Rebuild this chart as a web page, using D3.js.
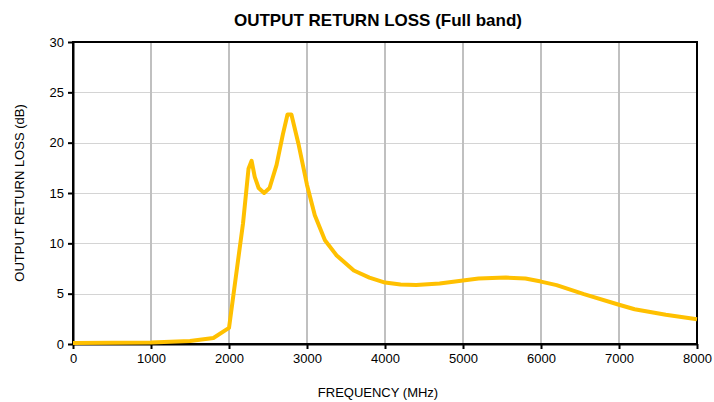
<!DOCTYPE html>
<html>
<head>
<meta charset="utf-8">
<script src="https://cdn.jsdelivr.net/npm/d3@7"></script>
<style>
  body { margin: 0; background: #fff; }
  text { font-family: "Liberation Sans", Arial, sans-serif; fill: #000; }
</style>
</head>
<body>
<div id="chart"></div>
<script>
const width = 714;
const height = 402;
const margin = { top: 42, right: 17, bottom: 58, left: 73 };
const innerWidth = width - margin.left - margin.right;
const innerHeight = height - margin.top - margin.bottom;

// Data
const frequency = [0, 500, 1000, 1500, 1800, 2000, 2180, 2250, 2290, 2330, 2380, 2450, 2520, 2610, 2690, 2750, 2800, 2890, 3000, 3100, 3230, 3380, 3600, 3800, 4000, 4200, 4400, 4700, 5000, 5200, 5550, 5800, 6000, 6200, 6550, 7000, 7200, 7600, 8000];
const returnLoss = [0.1, 0.12, 0.15, 0.3, 0.6, 1.6, 12.0, 17.4, 18.2, 16.6, 15.5, 15.0, 15.5, 17.8, 20.8, 22.8, 22.8, 19.9, 15.8, 12.8, 10.3, 8.8, 7.3, 6.6, 6.1, 5.9, 5.85, 6.0, 6.3, 6.5, 6.6, 6.5, 6.2, 5.85, 4.95, 3.9, 3.45, 2.9, 2.45];
const xTicks = [0, 1000, 2000, 3000, 4000, 5000, 6000, 7000, 8000];
const yTicks = [0, 5, 10, 15, 20, 25, 30];

const data = frequency.map((f, i) => ({ f: f, v: returnLoss[i] }));

const svg = d3.select("#chart")
    .append("svg")
    .attr("width", width)
    .attr("height", height);

const g = svg.append("g")
    .attr("transform", `translate(${margin.left},${margin.top})`);

const xScale = d3.scaleLinear().domain([0, 8000]).range([0, innerWidth]);
const yScale = d3.scaleLinear().domain([0, 30]).range([innerHeight, 0]);

// Gridlines
g.selectAll(".hgrid")
    .data(yTicks.slice(1, -1))
    .enter()
    .append("line")
    .attr("x1", 0)
    .attr("x2", innerWidth)
    .attr("y1", d => Math.round(yScale(d)) + 0.5)
    .attr("y2", d => Math.round(yScale(d)) + 0.5)
    .attr("stroke", "#d4d4d4")
    .attr("stroke-width", 1);

g.selectAll(".vgrid")
    .data(xTicks.slice(1, -1))
    .enter()
    .append("line")
    .attr("x1", d => Math.round(xScale(d)))
    .attr("x2", d => Math.round(xScale(d)))
    .attr("y1", 0)
    .attr("y2", innerHeight)
    .attr("stroke", "#c0c0c0")
    .attr("stroke-width", 2);

// Frame
g.append("rect")
    .attr("x", 0)
    .attr("y", 0)
    .attr("width", innerWidth)
    .attr("height", innerHeight)
    .attr("fill", "none")
    .attr("stroke", "#000")
    .attr("stroke-width", 2);

// Axes
const xAxis = d3.axisBottom(xScale).tickValues(xTicks).tickFormat(d3.format("d"))
    .tickSize(5).tickSizeOuter(0).tickPadding(5);
const yAxis = d3.axisLeft(yScale).tickValues(yTicks).tickFormat(d3.format("d"))
    .tickSize(5).tickSizeOuter(0).tickPadding(4);

const gx = g.append("g")
    .attr("transform", `translate(0,${innerHeight})`)
    .call(xAxis);
const gy = g.append("g").call(yAxis);

[gx, gy].forEach(ax => {
    ax.select(".domain").attr("stroke", "#000").attr("stroke-width", 2);
    ax.selectAll(".tick line").attr("stroke", "#000").attr("stroke-width", 2);
    ax.selectAll(".tick text").style("font-size", "13px").attr("fill", "#000");
});

// Curve
g.append("path")
    .datum(data)
    .attr("fill", "none")
    .attr("stroke", "#ffc000")
    .attr("stroke-width", 4)
    .attr("stroke-linejoin", "round")
    .attr("d", d3.line()
        .x(d => xScale(d.f))
        .y(d => yScale(d.v)));

// Titles
svg.append("text")
    .attr("x", 378)
    .attr("y", 26)
    .attr("text-anchor", "middle")
    .style("font-size", "17px")
    .style("font-weight", "bold")
    .text("OUTPUT RETURN LOSS (Full band)");

svg.append("text")
    .attr("x", 378)
    .attr("y", 397)
    .attr("text-anchor", "middle")
    .style("font-size", "13px")
    .text("FREQUENCY (MHz)");

svg.append("text")
    .attr("transform", "rotate(-90)")
    .attr("x", -(margin.top + innerHeight / 2))
    .attr("y", 24)
    .attr("text-anchor", "middle")
    .style("font-size", "13px")
    .text("OUTPUT RETURN LOSS (dB)");
</script>
</body>
</html>
